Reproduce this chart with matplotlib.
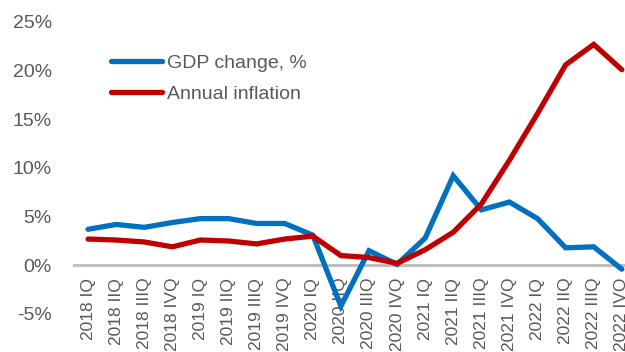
import matplotlib.pyplot as plt

quarters = ["2018 IQ", "2018 IIQ", "2018 IIIQ", "2018 IVQ",
            "2019 IQ", "2019 IIQ", "2019 IIIQ", "2019 IVQ",
            "2020 IQ", "2020 IIQ", "2020 IIIQ", "2020 IVQ",
            "2021 IQ", "2021 IIQ", "2021 IIIQ", "2021 IVQ",
            "2022 IQ", "2022 IIQ", "2022 IIIQ", "2022 IVQ"]
gdp = [3.7, 4.2, 3.9, 4.4, 4.8, 4.8, 4.3, 4.3, 3.1, -4.2,
       1.5, 0.1, 2.8, 9.2, 5.7, 6.5, 4.8, 1.8, 1.9, -0.4]
inflation = [2.7, 2.6, 2.4, 1.9, 2.6, 2.5, 2.2, 2.7, 3.0, 1.0,
             0.8, 0.2, 1.6, 3.4, 6.3, 10.8, 15.6, 20.6, 22.7, 20.1]

plt.rcParams['font.family'] = ['Liberation Sans', 'DejaVu Sans']
grey = '#595959'

fig = plt.figure(figsize=(6.25, 3.52), dpi=100)
ax = fig.add_axes([0.1184, 0.108, 0.899, 0.8295])

x = range(len(quarters))
ax.plot(x, gdp, color='#0070C0', lw=3.8, label='GDP change, %',
        solid_joinstyle='miter', solid_capstyle='round')
ax.plot(x, inflation, color='#C00000', lw=3.8, label='Annual inflation',
        solid_joinstyle='miter', solid_capstyle='round')

# axis line at zero (do this before styling tick labels, it resets ticks)
for s in ['top', 'right', 'left']:
    ax.spines[s].set_visible(False)
ax.spines['bottom'].set_position(('data', 0))
ax.spines['bottom'].set_color('#BFBFBF')
ax.spines['bottom'].set_linewidth(2.2)
ax.spines['bottom'].set_zorder(1)

ax.tick_params(axis='both', length=0)
ax.tick_params(axis='y', pad=16, labelsize=14, labelcolor=grey)
ax.tick_params(axis='x', pad=9, labelsize=12.5, labelcolor=grey, labelrotation=90)

ax.set_xlim(-0.5, len(quarters) - 0.5)
ax.set_ylim(-5, 25)
ax.set_yticks(range(-5, 26, 5))
ax.set_yticklabels([f'{v}%' for v in range(-5, 26, 5)])
ax.set_xticks(list(x))
ax.set_xticklabels(quarters, rotation=90, va='top')

ax.legend(loc='upper left', bbox_to_anchor=(0.035, 0.95), frameon=False,
          fontsize=14, labelcolor=grey, handlelength=2.6, handletextpad=0.25,
          labelspacing=0.7)

plt.savefig('out.png', dpi=100)
plt.close()
